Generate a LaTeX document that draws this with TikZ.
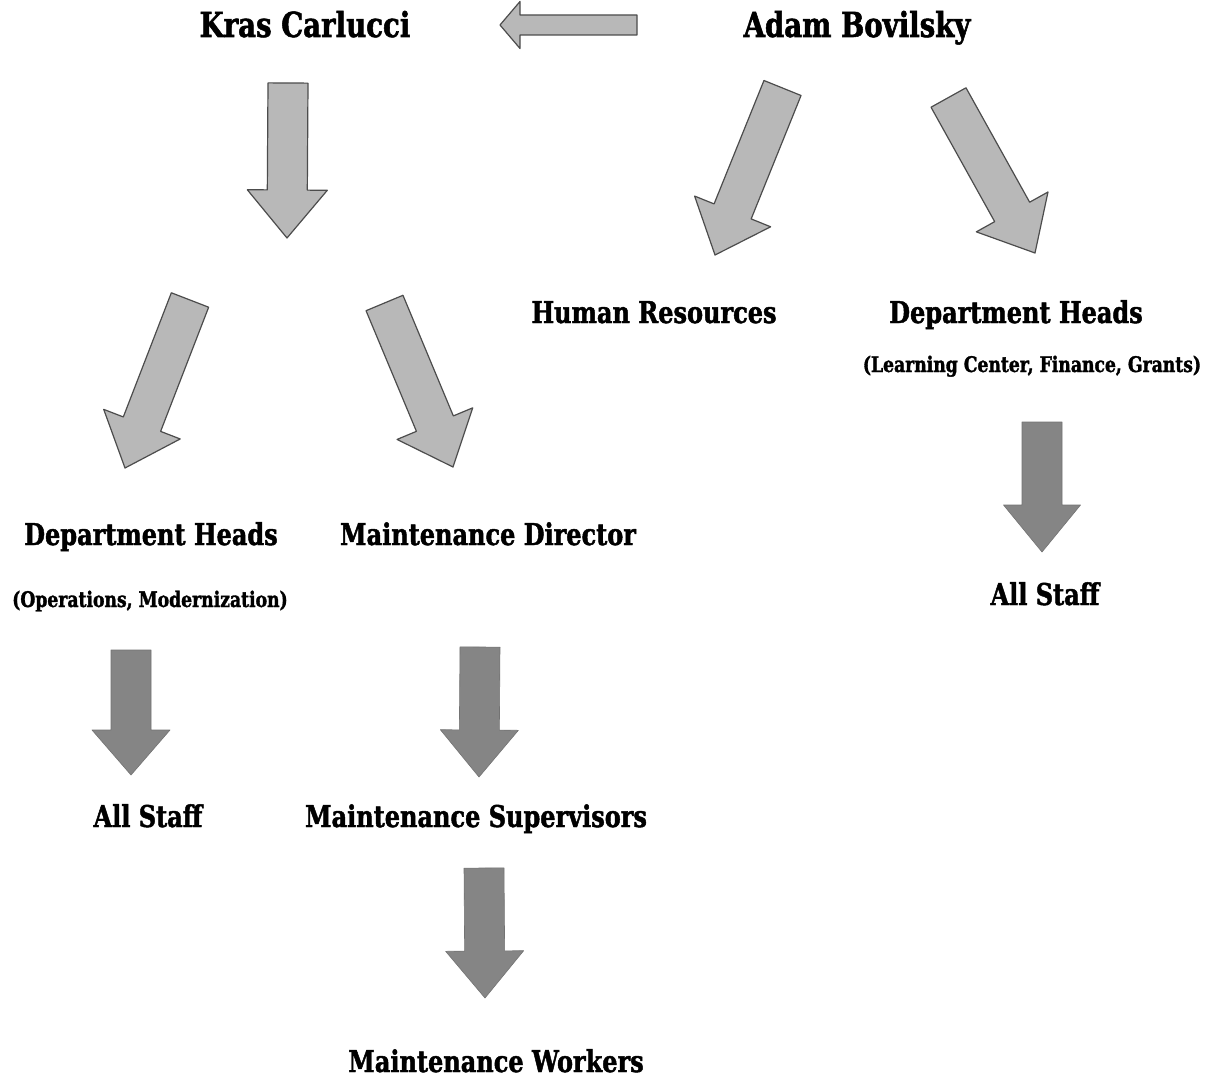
\documentclass[tikz,border=0pt]{standalone}
\usepackage{fontspec}
\usetikzlibrary{calc}
\newfontfamily\labfont{DejaVu Serif}[FakeStretch=0.8,FakeBold=1.5]
\tikzset{
  lab/.style={anchor=base, inner sep=0pt, font=\labfont\bfseries\fontsize{30}{36}\selectfont},
  biglab/.style={anchor=base, inner sep=0pt, font=\labfont\bfseries\fontsize{34.5}{40}\selectfont},
  sublab/.style={anchor=base, inner sep=0pt, font=\labfont\bfseries\fontsize{21.5}{25}\selectfont},
  lightarrow/.style={fill=black!28, draw=black!70, line width=1.2pt, line join=round},
  darkarrow/.style={fill=black!48, draw=black!55, line width=0.6pt, line join=round}
}
% #1 style, #2 tail, #3 tip, #4 shaft half width, #5 head half width, #6 head length
\newcommand\blockarrow[6]{%
  \path[#1] ($(#2)!#4!90:(#3)$)
    -- ($($(#3)!#6!(#2)$)!#4!-90:(#2)$)
    -- ($($(#3)!#6!(#2)$)!#5!-90:(#2)$)
    -- (#3)
    -- ($($(#3)!#6!(#2)$)!#5!90:(#2)$)
    -- ($($(#3)!#6!(#2)$)!#4!90:(#2)$)
    -- ($(#2)!#4!-90:(#3)$) -- cycle;}
\begin{document}
\begin{tikzpicture}[x=1pt,y=-1pt]
\useasboundingbox[fill=white] (0,0) rectangle (1215,1078);
% labels
\node[biglab] (kras) at (305,37) {Kras Carlucci};
\node[biglab] (adam) at (857,37) {Adam Bovilsky};
\node[lab] (hr) at (654,323) {Human Resources};
\node[lab] (dhr) at (1016,323) {Department Heads};
\node[sublab] (dhrsub) at (1032,372) {(Learning Center, Finance, Grants)};
\node[lab] (allr) at (1045,605) {All Staff};
\node[lab] (dhl) at (151,545) {Department Heads};
\node[sublab] (dhlsub) at (150,607) {(Operations, Modernization)};
\node[lab] (md) at (488,545) {Maintenance Director};
\node[lab] (alll) at (148,827) {All Staff};
\node[lab] (ms) at (476,827) {Maintenance Supervisors};
\node[lab] (mw) at (496,1072) {Maintenance Workers};
% arrow end points
\coordinate (a1t) at (637,25);    \coordinate (a1h) at (500,25);
\coordinate (a2t) at (288,83);    \coordinate (a2h) at (287,238);
\coordinate (a3t) at (782.5,88);  \coordinate (a3h) at (715,255);
\coordinate (a4t) at (948.5,97.5);\coordinate (a4h) at (1035,253);
\coordinate (a5t) at (190,300);   \coordinate (a5h) at (125,468);
\coordinate (a6t) at (384.5,303); \coordinate (a6h) at (453,467);
\coordinate (a7t) at (1042,422);  \coordinate (a7h) at (1042,552);
\coordinate (a8t) at (131,650);   \coordinate (a8h) at (131,775);
\coordinate (a9t) at (480,647);   \coordinate (a9h) at (479,777);
\coordinate (a10t) at (484,868);  \coordinate (a10h) at (485,998);
% light arrows
\blockarrow{lightarrow}{a1t}{a1h}{10pt}{23.5pt}{20pt}
\blockarrow{lightarrow}{a2t}{a2h}{20pt}{40pt}{48pt}
\blockarrow{lightarrow}{a3t}{a3h}{20pt}{41pt}{47pt}
\blockarrow{lightarrow}{a4t}{a4h}{20pt}{41pt}{47pt}
\blockarrow{lightarrow}{a5t}{a5h}{20pt}{41pt}{47pt}
\blockarrow{lightarrow}{a6t}{a6h}{20pt}{41pt}{47pt}
% dark arrows
\blockarrow{darkarrow}{a7t}{a7h}{20pt}{38.5pt}{47pt}
\blockarrow{darkarrow}{a8t}{a8h}{20pt}{39pt}{45pt}
\blockarrow{darkarrow}{a9t}{a9h}{20pt}{39pt}{47pt}
\blockarrow{darkarrow}{a10t}{a10h}{20pt}{39pt}{47pt}
\end{tikzpicture}
\end{document}
